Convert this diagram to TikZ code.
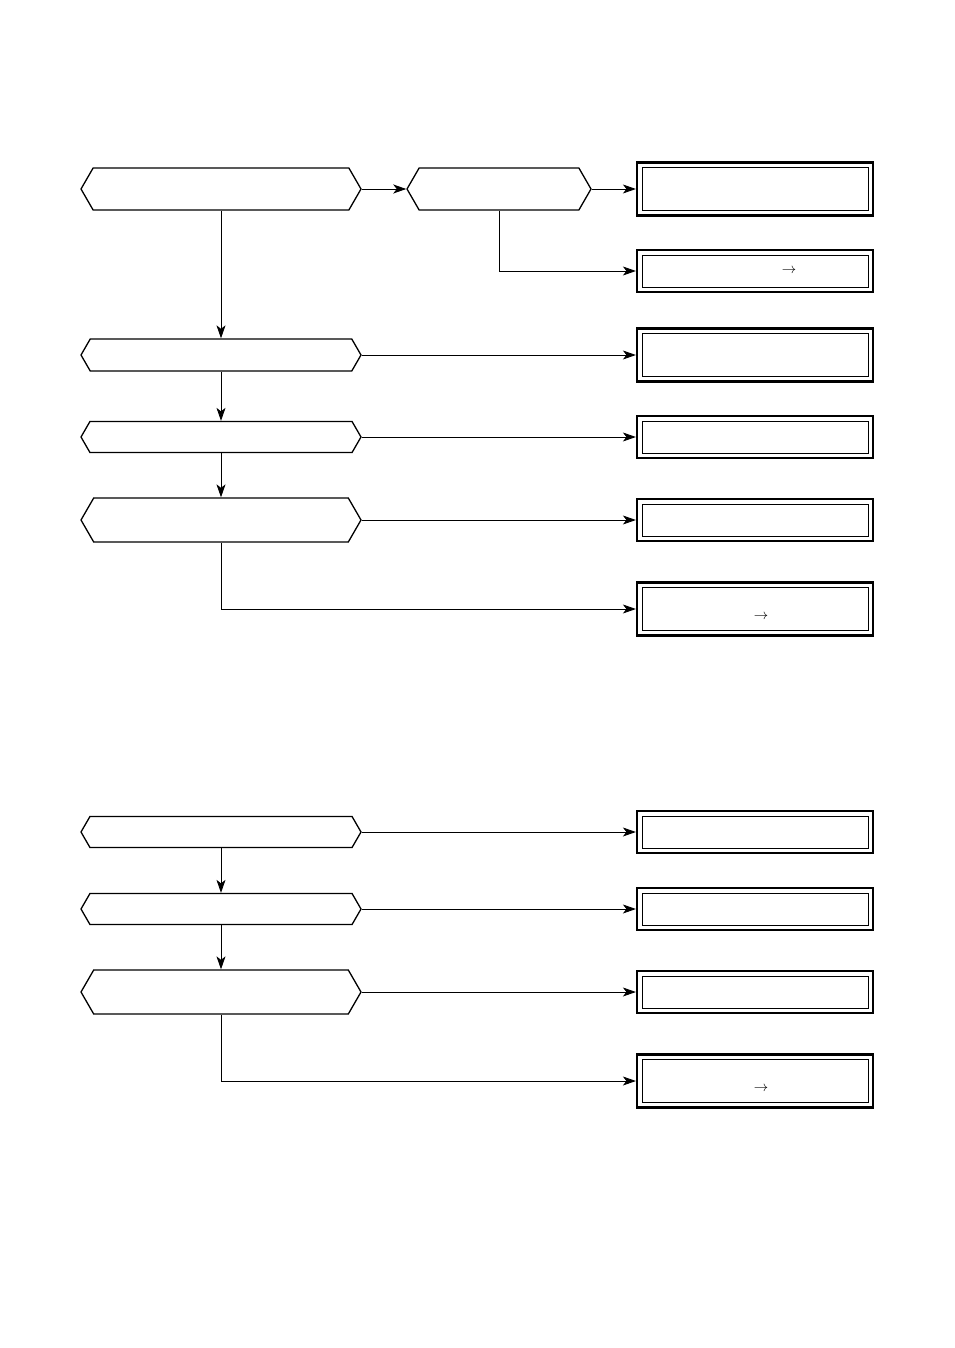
\documentclass[tikz,border=0pt]{standalone}
\usetikzlibrary{shapes.symbols,arrows.meta}

\tikzset{
  hexbox/.style={shape=signal, signal to=west and east, signal pointer angle=120,
    draw, line width=1.3pt, minimum width=280pt, minimum height=#1, inner sep=0pt},
  outbox/.style={draw, line width=2.2pt, minimum width=236pt, minimum height=#1, inner sep=0pt,
    path picture={\draw[line width=0.9pt] ([shift={(5pt,-5pt)}]path picture bounding box.north west)
      rectangle ([shift={(-5pt,5pt)}]path picture bounding box.south east);}},
  flow/.style={line width=0.9pt, -{Stealth[length=13pt,width=9pt,inset=3.5pt]}}
}

\begin{document}
\begin{tikzpicture}[x=1pt,y=-1pt]
  \useasboundingbox (0,0) rectangle (954,1348);
  % decision nodes
  \node[hexbox=42] (h1) at (221,189) {};
  \node[hexbox=42, minimum width=184pt] (h2) at (499,189) {};
  \node[hexbox=32] (h3) at (221,355) {};
  \node[hexbox=31] (h4) at (221,437) {};
  \node[hexbox=44] (h5) at (221,520) {};
  \node[hexbox=31] (h6) at (221,832) {};
  \node[hexbox=31] (h7) at (221,909) {};
  \node[hexbox=44] (h8) at (221,992) {};
  % result boxes
  \foreach \n/\y/\h in {r1/189/53, r2/271/42, r3/355/53, r4/437/42, r5/520/42,
      r6/609/53, r7/832/42, r8/909/42, r9/992/42, r10/1081/53}
    \node[outbox=\h] (\n) at (755,\y) {};
  \node[font=\Large] (a2) at (789,271) {$\rightarrow$};
  \node[font=\Large] (a6) at (761,617) {$\rightarrow$};
  \node[font=\Large] (a10) at (761,1089) {$\rightarrow$};
  % upper chart
  \draw[flow] (h1.east) -- (h2.west);
  \draw[flow] (h2.east) -- (r1.west);
  \draw[flow] (h2.south) |- (r2.west);
  \draw[flow] (h1.south) -- (h3.north);
  \draw[flow] (h3.east) -- (r3.west);
  \draw[flow] (h3.south) -- (h4.north);
  \draw[flow] (h4.east) -- (r4.west);
  \draw[flow] (h4.south) -- (h5.north);
  \draw[flow] (h5.east) -- (r5.west);
  \draw[flow] (h5.south) |- (r6.west);
  % lower chart
  \draw[flow] (h6.east) -- (r7.west);
  \draw[flow] (h6.south) -- (h7.north);
  \draw[flow] (h7.east) -- (r8.west);
  \draw[flow] (h7.south) -- (h8.north);
  \draw[flow] (h8.east) -- (r9.west);
  \draw[flow] (h8.south) |- (r10.west);
\end{tikzpicture}
\end{document}
